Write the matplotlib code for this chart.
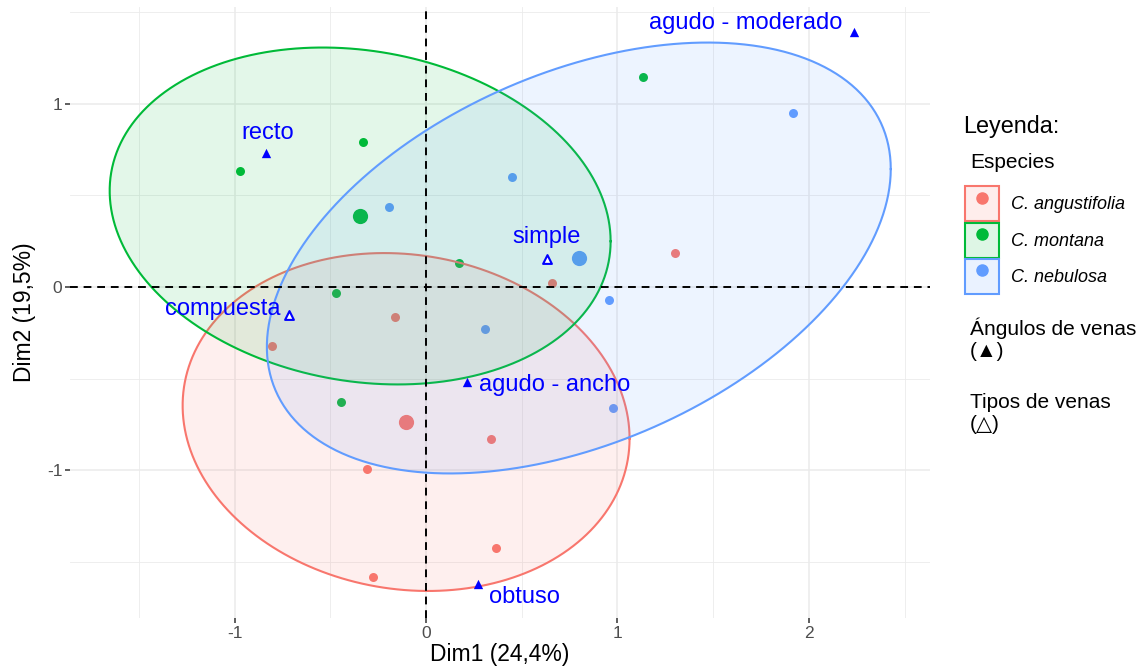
import numpy as np
import matplotlib
matplotlib.use("Agg")
import matplotlib.pyplot as plt
from matplotlib.patches import Patch
from matplotlib.lines import Line2D
from matplotlib.ticker import MultipleLocator

plt.rcParams['font.family'] = ['Liberation Sans', 'DejaVu Sans']
plt.rcParams['axes.unicode_minus'] = False

# individuals (MCA coordinates) per species
species = ["C. angustifolia", "C. montana", "C. nebulosa"]
colors = ["#F8766D", "#00BA38", "#619CFF"]

ang_x = [0.657, 1.299, -0.162, -0.803, 0.339, -0.308, 0.365, -0.277]
ang_y = [0.022, 0.185, -0.163, -0.322, -0.828, -0.992, -1.422, -1.580]
mon_x = [1.132, -0.329, -0.971, 0.172, -0.470, -0.443]
mon_y = [1.144, 0.790, 0.632, 0.131, -0.033, -0.627]
neb_x = [1.915, 0.449, -0.193, 0.955, 0.308, 0.976]
neb_y = [0.948, 0.599, 0.436, -0.071, -0.229, -0.659]

# group means (ellipse centres)
mean_x = [-0.104, -0.344, 0.798]
mean_y = [-0.736, 0.387, 0.158]

# scaled covariance of each group's 95% ellipse
cov_xx = [1.362, 1.711, 2.654]
cov_yy = [0.848, 0.843, 1.379]
cov_xy = [-0.105, -0.180, 0.790]

# variable categories
angle_cats = ["agudo - moderado", "recto", "agudo - ancho", "obtuso"]
angle_x = [2.233, -0.834, 0.214, 0.271]
angle_y = [1.390, 0.730, -0.518, -1.619]
type_cats = ["simple", "compuesta"]
type_x = [0.632, -0.715]
type_y = [0.153, -0.153]

# label offsets in pixels (repel-style placement)
angle_offsets = [(-108, 9), (1, 20), (88, -3), (47, -13)]
type_offsets = [(0, 22), (-66, 6)]

fig = plt.figure(figsize=(11.39, 6.68), dpi=100)
ax = fig.add_axes([0.0615, 0.0749, 0.755, 0.9146])

groups_x = [ang_x, mon_x, neb_x]
groups_y = [ang_y, mon_y, neb_y]

t = np.linspace(0, 2 * np.pi, 200)
for i in range(3):
    ax.scatter(groups_x[i], groups_y[i], s=42, color=colors[i], zorder=2, linewidths=0)
    ax.scatter(mean_x[i], mean_y[i], s=120, color=colors[i], zorder=2, linewidths=0)
    cov = np.array([[cov_xx[i], cov_xy[i]], [cov_xy[i], cov_yy[i]]])
    L = np.linalg.cholesky(cov)
    pts = L @ np.vstack([np.cos(t), np.sin(t)])
    ex = mean_x[i] + pts[0]
    ey = mean_y[i] + pts[1]
    ax.fill(ex, ey, color=colors[i], alpha=0.11, zorder=3, linewidth=0)
    ax.plot(ex, ey, color=colors[i], lw=1.5, zorder=3)

ax.axhline(0, color="black", ls=(0, (4, 3)), lw=1.4, zorder=4)
ax.axvline(0, color="black", ls=(0, (4, 3)), lw=1.4, zorder=4)

ax.scatter(angle_x, angle_y, marker="^", s=45, color="#0000FF", zorder=5, linewidths=0)
ax.scatter(type_x, type_y, marker="^", s=40, facecolor="white", edgecolor="#0000FF",
           linewidths=1.5, zorder=5)
for lab, x, y, off in zip(angle_cats + type_cats, angle_x + type_x, angle_y + type_y,
                          angle_offsets + type_offsets):
    ax.annotate(lab, (x, y), xytext=off, textcoords="offset pixels", ha="center",
                va="center", color="#0000FF", fontsize=17, zorder=6)

ax.set_xlim(-1.859, 2.632)
ax.set_ylim(-1.804, 1.526)
ax.xaxis.set_major_locator(MultipleLocator(1))
ax.yaxis.set_major_locator(MultipleLocator(1))
ax.xaxis.set_minor_locator(MultipleLocator(0.5))
ax.yaxis.set_minor_locator(MultipleLocator(0.5))
ax.grid(which="major", color="#EBEBEB", lw=1.1, zorder=0)
ax.grid(which="minor", color="#EBEBEB", lw=0.6, zorder=0)
ax.set_axisbelow(True)
for s in ax.spines.values():
    s.set_visible(False)
ax.tick_params(which="major", length=3.5, width=1.1, color="#333333",
               labelsize=12.5, labelcolor="#4D4D4D", pad=2)
ax.tick_params(which="minor", length=0)
ax.set_xlabel("Dim1 (24,4%)", fontsize=16.5, labelpad=2)
ax.set_ylabel("Dim2 (19,5%)", fontsize=16.5, labelpad=8)

# legend
handles = [(Patch(facecolor=c, alpha=0.13, edgecolor="none"),
            Patch(facecolor="none", edgecolor=c, linewidth=1.5),
            Line2D([], [], marker="o", ls="none", color=c, markersize=8))
           for c in colors]
leg = ax.legend(handles, species, loc="upper left",
                bbox_to_anchor=(1.0326, 0.7185), frameon=False,
                handlelength=1.88, handleheight=2.6, labelspacing=0.08,
                handletextpad=0.66, borderaxespad=0, borderpad=0.4,
                prop={"style": "italic", "size": 13})

fig.text(0.8455, 0.810, "Leyenda:", fontsize=16.8, va="center")
fig.text(0.8515, 0.757, "Especies", fontsize=15, va="center")
fig.text(0.8515, 0.492, "Ángulos de venas\n(▲)", fontsize=15, va="center", linespacing=1.15)
fig.text(0.8515, 0.381, "Tipos de venas\n(△)", fontsize=15, va="center", linespacing=1.15)

fig.savefig("out.png", dpi=100)
